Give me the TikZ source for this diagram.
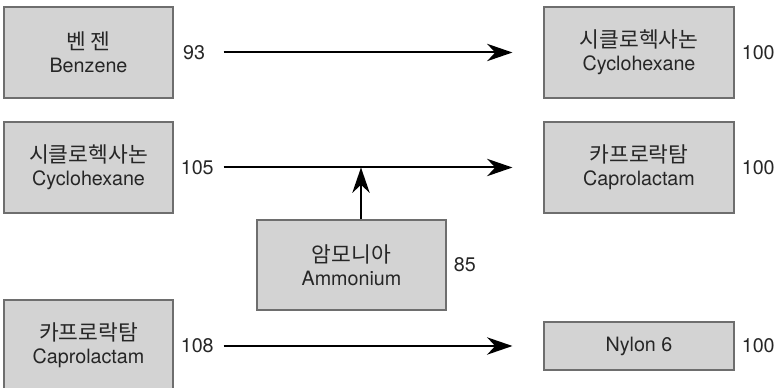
\documentclass[tikz,border=0pt]{standalone}
\usepackage{fontspec}
\setmainfont{TeX Gyre Heros}
\newfontfamily\kor{Noto Sans CJK KR}[Scale=1.09]
\usetikzlibrary{arrows.meta,positioning}
\definecolor{boxgray}{HTML}{D3D3D3}
\definecolor{edgegray}{HTML}{6E6E6E}
\tikzset{
  box/.style={draw=edgegray, fill=boxgray, line width=0.8pt, inner sep=0pt,
    align=center, text=black!85, font=\fontsize{14.8}{17.3}\selectfont},
  lbox/.style={box, minimum width=126.75pt, minimum height=68.25pt},
  rbox/.style={box, minimum width=142.5pt, minimum height=68.25pt},
  num/.style={inner sep=0pt, text=black!85, font=\fontsize{14.8}{17.3}\selectfont},
  flow/.style={-{Stealth[length=19pt,width=13pt,inset=6pt]}, line width=1.5pt}
}
\begin{document}
\begin{tikzpicture}[x=0.75pt,y=-0.75pt]
  \useasboundingbox (0,0) rectangle (779,388);
  % left column
  \node[lbox] (benz) at (88.5,52.5) {{\kor 벤 젠}\\Benzene};
  \node[lbox] (cyc1) at (88.5,167.5) {{\kor 시클로헥사논}\\Cyclohexane};
  \node[lbox] (cap1) at (88.5,345.5) {{\kor 카프로락탐}\\Caprolactam};
  % right column
  \node[rbox] (cyc2) at (639,52.5) {{\kor 시클로헥사논}\\Cyclohexane};
  \node[rbox] (cap2) at (639,167.5) {{\kor 카프로락탐}\\Caprolactam};
  \node[box, minimum width=142.5pt, minimum height=36pt] (nyl) at (639,346) {Nylon 6};
  % middle
  \node[box, minimum width=141.75pt, minimum height=67.5pt] (amm) at (351.5,265) {{\kor 암모니아}\\Ammonium};
  % yields
  \node[num, right=7pt of benz] (y1) {93};
  \node[num, right=5.25pt of cyc1] (y2) {105};
  \node[num, right=5.25pt of cap1] (y3) {108};
  \node[num, right=5.25pt of cyc2] (y4) {100};
  \node[num, right=5.25pt of cap2] (y5) {100};
  \node[num, right=5.25pt of nyl] (y6) {100};
  \node[num, right=5.25pt of amm] (y7) {85};
  \coordinate (mix) at (361,167.5);
  \begin{scope}[flow]
    \draw ([xshift=37.5pt]benz.east) -- ([xshift=-23.25pt]cyc2.west);
    \draw ([xshift=37.5pt]cyc1.east) -- ([xshift=-23.25pt]cap2.west);
    \draw ([xshift=37.5pt]cap1.east |- nyl.west) -- ([xshift=-23.25pt]nyl.west);
    \draw (amm.north -| mix) -- (mix);
  \end{scope}
\end{tikzpicture}
\end{document}
